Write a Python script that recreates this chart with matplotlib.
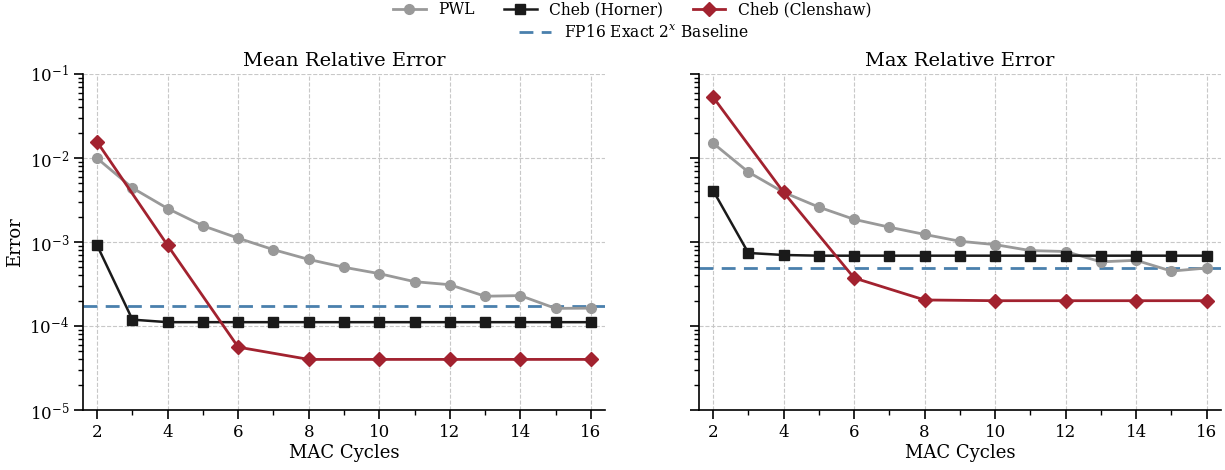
import numpy as np
import matplotlib
matplotlib.use("Agg")
from matplotlib import pyplot as plt
from matplotlib.lines import Line2D
from matplotlib.ticker import MultipleLocator, LogLocator

plt.rcParams['font.family'] = ['DejaVu Serif']
plt.rcParams['mathtext.fontset'] = 'dejavuserif'

# MAC cycles
cycles_all = [2, 3, 4, 5, 6, 7, 8, 9, 10, 11, 12, 13, 14, 15, 16]
cycles_even = [2, 4, 6, 8, 10, 12, 14, 16]

# Mean relative error
mean_pwl = [9.9e-3, 4.4e-3, 2.5e-3, 1.56e-3, 1.11e-3, 8.1e-4, 6.2e-4, 5.0e-4,
            4.2e-4, 3.37e-4, 3.1e-4, 2.26e-4, 2.3e-4, 1.62e-4, 1.63e-4]
mean_horner = [9.1e-4, 1.19e-4, 1.11e-4, 1.11e-4, 1.11e-4, 1.11e-4, 1.11e-4, 1.11e-4,
               1.11e-4, 1.11e-4, 1.11e-4, 1.11e-4, 1.11e-4, 1.11e-4, 1.11e-4]
mean_clenshaw = [1.55e-2, 9.1e-4, 5.6e-5, 4.0e-5, 4.0e-5, 4.0e-5, 4.0e-5, 4.0e-5]
mean_baseline = 1.75e-4

# Max relative error
max_pwl = [1.5e-2, 6.8e-3, 3.9e-3, 2.6e-3, 1.86e-3, 1.5e-3, 1.23e-3, 1.02e-3,
           9.3e-4, 7.9e-4, 7.7e-4, 5.8e-4, 6.05e-4, 4.5e-4, 4.9e-4]
max_horner = [4.1e-3, 7.4e-4, 7.0e-4, 6.87e-4, 6.87e-4, 6.87e-4, 6.87e-4, 6.87e-4,
              6.87e-4, 6.87e-4, 6.87e-4, 6.87e-4, 6.87e-4, 6.87e-4, 6.87e-4]
max_clenshaw = [5.3e-2, 3.9e-3, 3.73e-4, 2.04e-4, 2.0e-4, 2.0e-4, 2.0e-4, 2.0e-4]
max_baseline = 4.87e-4

c_pwl = '#999999'
c_horner = '#1a1a1a'
c_clen = '#a2222f'
c_base = '#4a80ad'

fig = plt.figure(figsize=(12.25, 4.7), dpi=100)
ax1 = fig.add_axes([0.0678, 0.1277, 0.426, 0.7149])
ax2 = fig.add_axes([0.5706, 0.1277, 0.426, 0.7149], sharey=ax1)

panels = [
    (ax1, 'Mean Relative Error', mean_pwl, mean_horner, mean_clenshaw, mean_baseline),
    (ax2, 'Max Relative Error', max_pwl, max_horner, max_clenshaw, max_baseline),
]

for ax, title, pwl, horner, clen, base in panels:
    ax.grid(True, which='major', linestyle='--', color='#c8c8c8', linewidth=0.8)
    ax.set_axisbelow(True)
    ax.axhline(base, color=c_base, linestyle=(0, (5, 3)), linewidth=2, zorder=2)
    ax.plot(cycles_all, pwl, color=c_pwl, marker='o', markersize=7, linewidth=2, zorder=3)
    ax.plot(cycles_all, horner, color=c_horner, marker='s', markersize=7, linewidth=1.8, zorder=4)
    ax.plot(cycles_even, clen, color=c_clen, marker='D', markersize=7, linewidth=2, zorder=5)
    ax.set_yscale('log')
    ax.set_ylim(1e-5, 1e-1)
    ax.set_xlim(1.6, 16.4)
    ax.xaxis.set_major_locator(MultipleLocator(2))
    ax.xaxis.set_minor_locator(MultipleLocator(1))
    ax.yaxis.set_major_locator(LogLocator(base=10, numticks=10))
    ax.yaxis.set_minor_locator(LogLocator(base=10, subs=np.arange(2, 10), numticks=10))
    ax.tick_params(which='major', direction='out', length=6.5, width=1.2, labelsize=12)
    ax.tick_params(which='minor', direction='out', length=3.5, width=1.0)
    ax.spines['top'].set_visible(False)
    ax.spines['right'].set_visible(False)
    for s in ['left', 'bottom']:
        ax.spines[s].set_linewidth(1.2)
    ax.set_title(title, fontsize=14, pad=6)
    ax.set_xlabel('MAC Cycles', fontsize=13, labelpad=2)

ax1.set_ylabel('Error', fontsize=13)
plt.setp(ax2.get_yticklabels(), visible=False)

handles_top = [
    Line2D([], [], color=c_pwl, marker='o', markersize=7, linewidth=2, label='PWL'),
    Line2D([], [], color=c_horner, marker='s', markersize=7, linewidth=1.8, label='Cheb (Horner)'),
    Line2D([], [], color=c_clen, marker='D', markersize=7, linewidth=2, label='Cheb (Clenshaw)'),
]
handles_bottom = [
    Line2D([], [], color=c_base, linestyle=(0, (5, 3)), linewidth=2,
           label=r'FP16 Exact $2^x$ Baseline'),
]
fig.legend(handles=handles_top, loc='center', bbox_to_anchor=(0.516, 0.979), ncol=3,
           frameon=False, fontsize=11.2, columnspacing=1.9, handlelength=2.1,
           handletextpad=0.8, borderaxespad=0, borderpad=0)
fig.legend(handles=handles_bottom, loc='center', bbox_to_anchor=(0.517, 0.93), ncol=1,
           frameon=False, fontsize=11.2, handlelength=2.1, handletextpad=0.8,
           borderaxespad=0, borderpad=0)

fig.savefig('out.png', dpi=100)
